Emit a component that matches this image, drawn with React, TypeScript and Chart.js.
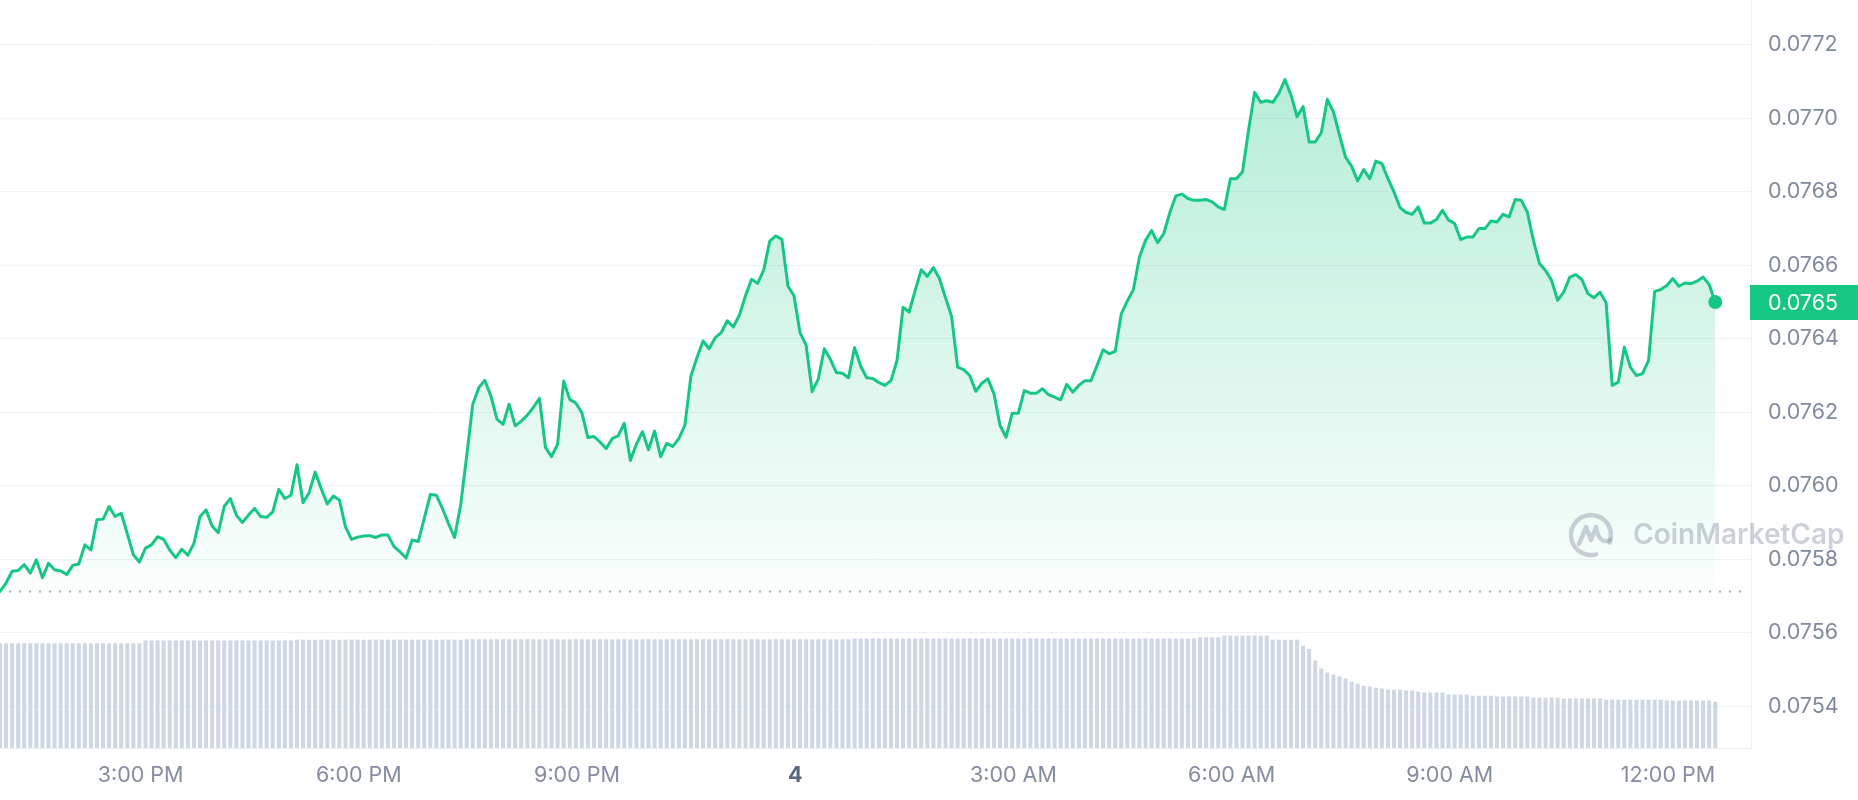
import React, { useEffect, useRef } from "react";
import { Chart, registerables } from "chart.js";

Chart.register(...registerables);

// time of first sample: minutes after midnight of the 3rd (1:04 PM), 5-minute samples
const START_MINUTE = 784;
const STEP_MINUTES = 5;

const PRICES: number[] = [
  0.075712, 0.075735, 0.075767, 0.075769, 0.075785, 0.075762, 0.075798, 0.075749, 0.075789, 0.075771, 0.075768, 0.075758,
  0.075783, 0.075787, 0.075839, 0.075825, 0.075907, 0.075909, 0.075943, 0.075916, 0.075925, 0.075870, 0.075812, 0.075792,
  0.075830, 0.075839, 0.075861, 0.075854, 0.075825, 0.075804, 0.075827, 0.075811, 0.075843, 0.075916, 0.075934, 0.075890,
  0.075872, 0.075944, 0.075965, 0.075920, 0.075900, 0.075920, 0.075938, 0.075916, 0.075914, 0.075929, 0.075990, 0.075965,
  0.075974, 0.076057, 0.075954, 0.075981, 0.076037, 0.075992, 0.075950, 0.075972, 0.075961, 0.075888, 0.075854, 0.075860,
  0.075863, 0.075864, 0.075859, 0.075866, 0.075866, 0.075834, 0.075820, 0.075803, 0.075852, 0.075848, 0.075911, 0.075976,
  0.075974, 0.075938, 0.075897, 0.075859, 0.075947, 0.076081, 0.076222, 0.076267, 0.076287, 0.076244, 0.076181, 0.076167,
  0.076222, 0.076163, 0.076176, 0.076192, 0.076213, 0.076238, 0.076104, 0.076079, 0.076113, 0.076285, 0.076235, 0.076225,
  0.076199, 0.076131, 0.076134, 0.076119, 0.076101, 0.076128, 0.076136, 0.076170, 0.076069, 0.076113, 0.076147, 0.076098,
  0.076149, 0.076079, 0.076115, 0.076107, 0.076128, 0.076165, 0.076299, 0.076349, 0.076394, 0.076373, 0.076403, 0.076417,
  0.076449, 0.076432, 0.076465, 0.076517, 0.076562, 0.076551, 0.076587, 0.076666, 0.076680, 0.076671, 0.076544, 0.076517,
  0.076417, 0.076383, 0.076256, 0.076290, 0.076373, 0.076344, 0.076308, 0.076306, 0.076294, 0.076376, 0.076326, 0.076294,
  0.076292, 0.076281, 0.076273, 0.076286, 0.076341, 0.076486, 0.076473, 0.076532, 0.076588, 0.076570, 0.076594, 0.076564,
  0.076512, 0.076461, 0.076323, 0.076316, 0.076300, 0.076257, 0.076279, 0.076291, 0.076250, 0.076164, 0.076132, 0.076197,
  0.076197, 0.076259, 0.076252, 0.076252, 0.076264, 0.076248, 0.076241, 0.076234, 0.076276, 0.076255, 0.076273, 0.076286,
  0.076286, 0.076327, 0.076370, 0.076359, 0.076366, 0.076468, 0.076503, 0.076534, 0.076623, 0.076668, 0.076695, 0.076662,
  0.076686, 0.076743, 0.076789, 0.076794, 0.076782, 0.076777, 0.076777, 0.076779, 0.076773, 0.076759, 0.076752, 0.076836,
  0.076836, 0.076855, 0.076968, 0.077071, 0.077044, 0.077048, 0.077044, 0.077068, 0.077106, 0.077064, 0.077005, 0.077032,
  0.076936, 0.076936, 0.076961, 0.077052, 0.077018, 0.076955, 0.076895, 0.076870, 0.076830, 0.076861, 0.076836, 0.076884,
  0.076877, 0.076836, 0.076800, 0.076757, 0.076744, 0.076739, 0.076759, 0.076715, 0.076715, 0.076725, 0.076750, 0.076723,
  0.076714, 0.076670, 0.076677, 0.076677, 0.076700, 0.076700, 0.076721, 0.076718, 0.076739, 0.076732, 0.076779, 0.076777,
  0.076745, 0.076668, 0.076605, 0.076586, 0.076559, 0.076505, 0.076527, 0.076568, 0.076575, 0.076561, 0.076523, 0.076512,
  0.076527, 0.076498, 0.076273, 0.076282, 0.076377, 0.076323, 0.076300, 0.076305, 0.076341, 0.076529, 0.076534, 0.076545,
  0.076564, 0.076543, 0.076552, 0.076550, 0.076557, 0.076568, 0.076548, 0.076500,
];

// volume, millions
const VOLUMES: number[] = [
  261, 261, 261, 261, 261, 261, 261, 261, 261, 261, 261, 261,
  261, 261, 261, 261, 261, 261, 261, 261, 261, 261, 261, 261,
  268, 268, 268, 268, 268, 268, 268, 268, 268, 268, 268, 268,
  268, 268, 268, 268, 268, 268, 268, 268, 268, 268, 268, 268,
  268, 270, 270, 270, 270, 270, 270, 270, 270, 270, 270, 270,
  270, 270, 270, 270, 270, 270, 270, 270, 270, 270, 270, 270,
  270, 270, 270, 270, 270, 271, 271, 271, 271, 271, 271, 271,
  271, 271, 271, 271, 271, 271, 271, 271, 271, 271, 271, 271,
  271, 271, 271, 271, 271, 271, 271, 271, 271, 271, 271, 271,
  271, 271, 271, 271, 271, 271, 271, 271, 271, 271, 271, 271,
  271, 271, 271, 271, 271, 271, 271, 271, 271, 271, 271, 271,
  271, 271, 271, 271, 271, 271, 271, 271, 271, 273, 273, 273,
  273, 273, 273, 273, 273, 273, 273, 273, 273, 273, 273, 273,
  273, 273, 273, 273, 273, 273, 273, 273, 273, 273, 273, 273,
  273, 273, 273, 273, 273, 273, 273, 273, 273, 273, 273, 273,
  273, 273, 273, 273, 273, 273, 273, 273, 273, 273, 273, 273,
  273, 273, 273, 273, 273, 273, 276, 276, 276, 276, 280, 280,
  280, 280, 280, 280, 280, 280, 270, 270, 270, 270, 270, 255,
  247, 218, 198, 188, 183, 178, 173, 165, 160, 155, 153, 150,
  148, 146, 145, 145, 143, 143, 140, 138, 138, 138, 138, 133,
  133, 133, 133, 130, 130, 130, 130, 128, 128, 128, 128, 128,
  128, 125, 125, 125, 125, 125, 123, 123, 123, 123, 123, 123,
  123, 120, 120, 120, 120, 120, 120, 120, 120, 120, 120, 118,
  118, 118, 118, 118, 118, 118, 118, 115,
];

const X_TICKS = [900, 1080, 1260, 1440, 1620, 1800, 1980, 2160];
const X_TICK_LABELS = ["3:00 PM", "6:00 PM", "9:00 PM", "4", "3:00 AM", "6:00 AM", "9:00 AM", "12:00 PM"];
const DAY_TICK = 1440;
const Y_TICKS = [0.0754, 0.0756, 0.0758, 0.076, 0.0762, 0.0764, 0.0766, 0.0768, 0.077, 0.0772];

const X_MIN = 784;
const X_MAX = 2228.5;
const Y_MIN = 0.0752858;
const Y_MAX = 0.0773225;
const VOL_MAX = 1870;

const GREEN = "#16c784";
const FONT = "Inter, 'Noto Sans', sans-serif";
const LABEL_SIZE = 21.5;

const extrasPlugin = {
  id: "cmcExtras",
  beforeDatasetsDraw(chart: any) {
    const { ctx, chartArea, scales } = chart;
    const y = Math.round(scales.y.getPixelForValue(PRICES[0])) + 0.5;
    ctx.save();
    ctx.strokeStyle = "#a7adb8";
    ctx.lineWidth = 2;
    ctx.setLineDash([2, 8]);
    ctx.beginPath();
    ctx.moveTo(chartArea.left + 9, y);
    ctx.lineTo(chartArea.right - 6, y);
    ctx.stroke();
    ctx.restore();
  },
  afterDraw(chart: any) {
    const { ctx, chartArea, scales, width } = chart;
    // watermark
    ctx.save();
    const cx = 1591, cy = 535, r = 20;
    ctx.strokeStyle = "rgba(128,138,157,0.4)";
    ctx.lineWidth = 4.5;
    ctx.lineCap = "round";
    ctx.lineJoin = "round";
    ctx.beginPath();
    ctx.arc(cx, cy, r, 0.42 * Math.PI, 2.12 * Math.PI);
    ctx.stroke();
    ctx.beginPath();
    ctx.moveTo(cx - 12, cy + 9);
    ctx.lineTo(cx - 5, cy - 8);
    ctx.lineTo(cx, cy + 5);
    ctx.lineTo(cx + 5, cy - 8);
    ctx.quadraticCurveTo(cx + 8, cy + 10, cx + 19, cy + 5);
    ctx.stroke();
    ctx.fillStyle = "rgba(128,138,157,0.4)";
    ctx.font = `600 28px ${FONT}`;
    ctx.textBaseline = "middle";
    ctx.textAlign = "left";
    ctx.fillText("CoinMarketCap", 1633, cy + 1);
    ctx.restore();

    // current price tag
    const last = PRICES[PRICES.length - 1];
    const py = scales.y.getPixelForValue(last);
    ctx.save();
    ctx.fillStyle = GREEN;
    ctx.fillRect(chartArea.right - 1, Math.round(py - 17.5), width - chartArea.right + 1, 35);
    ctx.fillStyle = "#ffffff";
    ctx.font = `${LABEL_SIZE}px ${FONT}`;
    ctx.textBaseline = "middle";
    ctx.textAlign = "left";
    ctx.fillText(last.toFixed(4), chartArea.right + 17, py + 1);
    ctx.restore();
  },
};

export default function App() {
  const canvasRef = useRef<HTMLCanvasElement | null>(null);

  useEffect(() => {
    const canvas = canvasRef.current;
    if (!canvas) return;
    const times = PRICES.map((_, i) => START_MINUTE + i * STEP_MINUTES);
    const lastIndex = PRICES.length - 1;

    const chart = new Chart(canvas, {
      type: "line",
      data: {
        datasets: [
          {
            type: "line",
            label: "Price",
            data: PRICES.map((p, i) => ({ x: times[i], y: p })),
            borderColor: GREEN,
            borderWidth: 3,
            borderJoinStyle: "round",
            borderCapStyle: "round",
            tension: 0,
            pointRadius: (c: any) => (c.dataIndex === lastIndex ? 7 : 0),
            pointHoverRadius: 0,
            pointBackgroundColor: GREEN,
            pointBorderWidth: 0,
            fill: { value: PRICES[0] },
            backgroundColor: (c: any) => {
              const ch = c.chart;
              const area = ch.chartArea;
              if (!area) return "rgba(22,199,132,0.15)";
              const yBase = ch.scales.y.getPixelForValue(PRICES[0]);
              const g = ch.ctx.createLinearGradient(0, area.top, 0, yBase);
              g.addColorStop(0, "rgba(22,199,132,0.36)");
              g.addColorStop(1, "rgba(22,199,132,0.02)");
              return g;
            },
            yAxisID: "y",
            order: 0,
          } as any,
          {
            type: "bar",
            label: "Volume",
            data: VOLUMES.map((v, i) => ({ x: times[i], y: v })),
            backgroundColor: "#cfd6e4",
            borderWidth: 0,
            barThickness: 3.4,
            yAxisID: "yVol",
            order: 1,
          } as any,
        ],
      },
      options: {
        responsive: false,
        animation: false,
        devicePixelRatio: 1,
        layout: { padding: 0, autoPadding: false },
        plugins: {
          legend: { display: false },
          tooltip: { enabled: false },
        },
        scales: {
          x: {
            type: "linear",
            min: X_MIN,
            max: X_MAX,
            offset: false,
            grid: { display: false, drawTicks: false },
            border: { display: true, color: "#eef0f3" },
            afterBuildTicks: (scale: any) => {
              scale.ticks = X_TICKS.map((v) => ({ value: v }));
            },
            afterFit: (scale: any) => {
              scale.height = 52;
              scale.paddingLeft = 0;
              scale.paddingRight = 0;
            },
            ticks: {
              autoSkip: false,
              maxRotation: 0,
              padding: 15,
              callback: (v: any) => X_TICK_LABELS[X_TICKS.indexOf(v)] ?? "",
              color: (c: any) => (c.tick && c.tick.value === DAY_TICK ? "#58667e" : "#858ca2"),
              font: (c: any) => ({
                family: FONT,
                size: LABEL_SIZE,
                weight: c.tick && c.tick.value === DAY_TICK ? "bold" : "normal",
              }),
            },
          },
          y: {
            type: "linear",
            position: "right",
            min: Y_MIN,
            max: Y_MAX,
            grid: { color: "#eff2f5", lineWidth: 1, drawTicks: false },
            border: { display: true, color: "#eef0f3" },
            afterBuildTicks: (scale: any) => {
              scale.ticks = Y_TICKS.map((v) => ({ value: v }));
            },
            afterFit: (scale: any) => {
              scale.width = 107;
              scale.paddingTop = 0;
              scale.paddingBottom = 0;
            },
            ticks: {
              padding: 17,
              color: "#808a9d",
              font: { family: FONT, size: LABEL_SIZE },
              callback: (v: any) => Number(v).toFixed(4),
            },
          },
          yVol: {
            type: "linear",
            display: false,
            min: 0,
            max: VOL_MAX,
          },
        },
      } as any,
      plugins: [extrasPlugin],
    });

    return () => chart.destroy();
  }, []);

  return (
    <div style={{ position: "fixed", left: 0, top: 0, width: 1858, height: 800, background: "#ffffff" }}>
      <canvas ref={canvasRef} width={1858} height={800} style={{ display: "block" }} />
    </div>
  );
}
